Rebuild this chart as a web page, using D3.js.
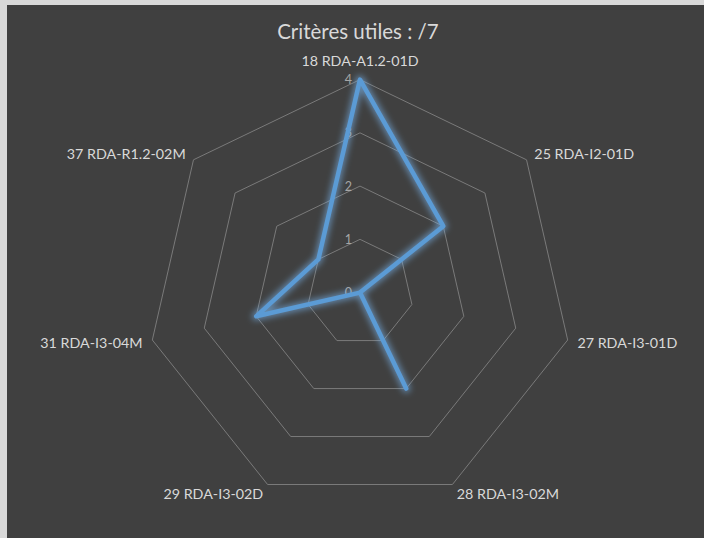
<!DOCTYPE html>
<html><head><meta charset="utf-8">
<script src="https://cdn.jsdelivr.net/npm/d3@7"></script>
<style>html,body{margin:0;padding:0;background:#d4d4d4;}svg{display:block;}</style>
</head><body>
<svg id="chart" width="704" height="538"></svg>
<script>
const title = "Critères utiles : /7";
const categories = ["18 RDA-A1.2-01D","25 RDA-I2-01D","27 RDA-I3-01D","28 RDA-I3-02M","29 RDA-I3-02D","31 RDA-I3-04M","37 RDA-R1.2-02M"];
const values = [4, 2, 0, 2, 0, 2, 1];
const tickValues = [0, 1, 2, 3, 4];

const svg = d3.select("#chart");
const W = 704, H = 538;
const font = "Lato, 'Open Sans', sans-serif";

svg.append("rect").attr("x",0).attr("y",0).attr("width",W).attr("height",H).attr("fill","#d9d9d9");
svg.append("rect").attr("x",7).attr("y",5).attr("width",W-7).attr("height",H-5).attr("fill","#404040");

const cx = 360, cy = 292.6, R = 213;
const n = categories.length;
const r = d3.scaleLinear().domain([0, 4]).range([0, R]);
const angle = i => i * 2 * Math.PI / n;

const defs = svg.append("defs");
const f = defs.append("filter").attr("id","glow").attr("x","-20%").attr("y","-20%").attr("width","140%").attr("height","140%");
f.append("feGaussianBlur").attr("in","SourceGraphic").attr("stdDeviation",3);

const g = svg.append("g").attr("transform",`translate(${cx},${cy})`);

// grid rings
const ring = d3.lineRadial().angle((d,i)=>angle(i)).radius(d=>r(d)).curve(d3.curveLinearClosed);
tickValues.filter(t=>t>0).forEach(t=>{
  g.append("path").attr("d", ring(categories.map(()=>t)))
   .attr("fill","none").attr("stroke","#7a7a7a").attr("stroke-width",1);
});

// tick labels
g.selectAll("text.tick").data(tickValues).join("text")
  .attr("class","tick")
  .attr("x",-8).attr("y",d=>-r(d))
  .attr("text-anchor","end").attr("dominant-baseline","central")
  .attr("font-family",font).attr("font-size",12.5).attr("fill","#a6a6a6")
  .text(d=>d);

// data line
const line = d3.lineRadial().angle((d,i)=>angle(i)).radius(d=>r(d)).curve(d3.curveLinearClosed);
g.append("path").attr("d", line(values)).attr("fill","none")
  .attr("stroke","#7ab8f2").attr("stroke-width",8).attr("stroke-opacity",0.6)
  .attr("stroke-linejoin","round").attr("filter","url(#glow)");
g.append("path").attr("d", line(values)).attr("fill","none")
  .attr("stroke","#5b9bd5").attr("stroke-width",4.5).attr("stroke-linejoin","round");

// category labels
categories.forEach((c,i)=>{
  const a = angle(i), s = Math.sin(a), co = Math.cos(a);
  const rr = R + 10;
  let x = rr*s, y = -rr*co;
  let anchor = Math.abs(s) < 0.1 ? "middle" : (s > 0 ? "start" : "end");
  if (i === 0) y -= 9;
  g.append("text").attr("x",x).attr("y",y)
   .attr("text-anchor",anchor).attr("dominant-baseline","central")
   .attr("font-family",font).attr("font-size",14.3).attr("fill","#d9d9d9")
   .text(c);
});

svg.append("text").attr("x",358).attr("y",31).attr("text-anchor","middle")
  .attr("dominant-baseline","central")
  .attr("font-family",font).attr("font-size",20.5).attr("fill","#d9d9d9")
  .text(title);
</script>
</body></html>
